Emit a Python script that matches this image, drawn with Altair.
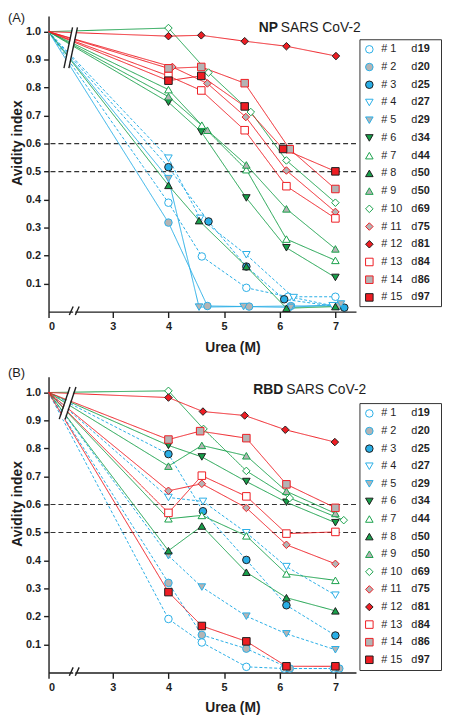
import altair as alt
import pandas as pd

FONT = "Liberation Sans"
BLUE = "#29aee6"
GREEN = "#18a04a"
RED = "#ee1d23"
GRAY = "#b4b4b4"
INK = "#1e1e1e"

series = [f"# {i}" for i in range(1, 16)]
days = ["19", "20", "25", "27", "29", "34", "44", "50", "50", "69", "75", "81", "84", "86", "97"]
family = ["blue"] * 5 + ["green"] * 5 + ["red"] * 5
shapes = ["circle"] * 3 + ["triangle-down"] * 3 + ["triangle-up"] * 3 + ["diamond"] * 3 + ["square"] * 3
fills = ["white", GRAY, BLUE, "white", GRAY, GREEN, "white", GREEN, GRAY, "white", GRAY, RED, "white", GRAY, RED]
strokes = [BLUE, BLUE, INK, BLUE, BLUE, INK, GREEN, INK, GREEN, GREEN, RED, INK, RED, RED, INK]
ref_levels = [0.5, 0.6]
x_ticks = [0, 3, 4, 5, 6, 7]
y_ticks = [0.1, 0.2, 0.3, 0.4, 0.5, 0.6, 0.7, 0.8, 0.9, 1.0]

# ---- Panel A: NP SARS CoV-2 (urea M, avidity index) ----
np_x_01 = [0, 4.00, 4.60, 5.40, 6.15, 7.00]; np_v_01 = [1.0, 0.389, 0.197, 0.085, 0.053, 0.053]
np_x_02 = [0, 4.00, 4.70, 5.45, 6.20, 7.05]; np_v_02 = [1.0, 0.318, 0.020, 0.018, 0.020, 0.020]
np_x_03 = [0, 4.00, 4.72, 5.40, 6.08, 7.16]; np_v_03 = [1.0, 0.516, 0.322, 0.161, 0.044, 0.014]
np_x_04 = [0, 4.00, 4.57, 5.40, 6.25, 6.95]; np_v_04 = [1.0, 0.548, 0.333, 0.203, 0.050, 0.021]
np_x_05 = [0, 4.00, 4.55, 5.35, 6.20, 7.10]; np_v_05 = [1.0, 0.475, 0.016, 0.018, 0.015, 0.027]
np_x_06 = [0, 4.00, 4.59, 5.40, 6.12, 7.00]; np_v_06 = [1.0, 0.748, 0.642, 0.406, 0.228, 0.122]
np_x_07 = [0, 4.00, 4.60, 5.40, 6.12, 7.00]; np_v_07 = [1.0, 0.793, 0.666, 0.507, 0.259, 0.183]
np_x_08 = [0, 4.00, 4.55, 5.40, 6.12, 7.00]; np_v_08 = [1.0, 0.451, 0.325, 0.161, 0.012, 0.018]
np_x_09 = [0, 4.00, 4.70, 5.40, 6.12, 7.00]; np_v_09 = [1.0, 0.768, 0.648, 0.524, 0.367, 0.224]
np_x_10 = [0, 4.00, 4.72, 5.48, 6.12, 7.00]; np_v_10 = [1.0, 1.013, 0.854, 0.713, 0.540, 0.389]
np_x_11 = [0, 4.07, 4.70, 5.39, 6.12, 7.00]; np_v_11 = [1.0, 0.874, 0.815, 0.695, 0.504, 0.356]
np_x_12 = [0, 4.00, 4.59, 5.37, 6.12, 7.01]; np_v_12 = [1.0, 0.984, 0.987, 0.966, 0.948, 0.913]
np_x_13 = [0, 4.00, 4.59, 5.37, 6.12, 7.00]; np_v_13 = [1.0, 0.842, 0.790, 0.648, 0.448, 0.333]
np_x_14 = [0, 4.00, 4.59, 5.37, 6.18, 7.00]; np_v_14 = [1.0, 0.869, 0.874, 0.816, 0.580, 0.438]
np_x_15 = [0, 4.00, 4.59, 5.37, 6.06, 7.00]; np_v_15 = [1.0, 0.825, 0.842, 0.733, 0.581, 0.501]
np_solid = ["# 2", "# 5"]

# ---- Panel B: RBD SARS CoV-2 ----
rbd_x_01 = [0, 4.00, 4.60, 5.40, 6.08, 6.97]; rbd_v_01 = [1.0, 0.191, 0.107, 0.020, 0.014, 0.014]
rbd_x_02 = [0, 4.00, 4.60, 5.40, 6.18, 7.07]; rbd_v_02 = [1.0, 0.320, 0.134, 0.085, 0.014, 0.014]
rbd_x_03 = [0, 4.00, 4.62, 5.40, 6.12, 7.00]; rbd_v_03 = [1.0, 0.780, 0.576, 0.402, 0.240, 0.132]
rbd_x_04 = [0, 4.00, 4.62, 5.40, 6.12, 7.00]; rbd_v_04 = [1.0, 0.625, 0.611, 0.499, 0.378, 0.276]
rbd_x_05 = [0, 4.00, 4.60, 5.40, 6.12, 7.00]; rbd_v_05 = [1.0, 0.417, 0.305, 0.201, 0.138, 0.081]
rbd_x_06 = [0, 4.00, 4.60, 5.40, 6.12, 7.00]; rbd_v_06 = [1.0, 0.811, 0.770, 0.682, 0.608, 0.535]
rbd_x_07 = [0, 4.00, 4.60, 5.40, 6.12, 7.00]; rbd_v_07 = [1.0, 0.549, 0.561, 0.488, 0.352, 0.329]
rbd_x_08 = [0, 4.00, 4.60, 5.40, 6.12, 7.00]; rbd_v_08 = [1.0, 0.435, 0.523, 0.358, 0.267, 0.220]
rbd_x_09 = [0, 4.00, 4.60, 5.40, 6.12, 7.00]; rbd_v_09 = [1.0, 0.737, 0.811, 0.774, 0.647, 0.568]
rbd_x_10 = [0, 4.00, 4.63, 5.40, 6.18, 7.15]; rbd_v_10 = [1.0, 1.006, 0.870, 0.720, 0.623, 0.544]
rbd_x_11 = [0, 4.00, 4.60, 5.40, 6.12, 7.00]; rbd_v_11 = [1.0, 0.649, 0.674, 0.588, 0.456, 0.388]
rbd_x_12 = [0, 4.00, 4.62, 5.37, 6.10, 6.99]; rbd_v_12 = [1.0, 0.982, 0.932, 0.918, 0.867, 0.823]
rbd_x_13 = [0, 4.00, 4.60, 5.40, 6.12, 7.00]; rbd_v_13 = [1.0, 0.570, 0.703, 0.629, 0.496, 0.502]
rbd_x_14 = [0, 4.00, 4.57, 5.40, 6.12, 7.00]; rbd_v_14 = [1.0, 0.832, 0.862, 0.837, 0.672, 0.588]
rbd_x_15 = [0, 4.00, 4.60, 5.40, 6.12, 7.00]; rbd_v_15 = [1.0, 0.287, 0.166, 0.111, 0.022, 0.022]
rbd_solid = []

# axis-break decorations (data units)
np_brk_x = [0.72, 0.95]; np_brk_x2 = [1.12, 1.35]; np_brk_y = [0.87, 0.87]; np_brk_y2 = [1.015, 1.015]
rbd_brk_x = [0.50, 0.78]; rbd_brk_x2 = [1.00, 1.28]; rbd_brk_y = [0.905, 0.905]; rbd_brk_y2 = [1.02, 1.02]
axis_brk_x = [0.97, 1.25]; axis_brk_x2 = [1.15, 1.43]; axis_brk_y = [-0.012, -0.012]; axis_brk_y2 = [0.018, 0.018]

np_xs = [np_x_01, np_x_02, np_x_03, np_x_04, np_x_05, np_x_06, np_x_07, np_x_08, np_x_09, np_x_10,
         np_x_11, np_x_12, np_x_13, np_x_14, np_x_15]
np_vs = [np_v_01, np_v_02, np_v_03, np_v_04, np_v_05, np_v_06, np_v_07, np_v_08, np_v_09, np_v_10,
         np_v_11, np_v_12, np_v_13, np_v_14, np_v_15]
rbd_xs = [rbd_x_01, rbd_x_02, rbd_x_03, rbd_x_04, rbd_x_05, rbd_x_06, rbd_x_07, rbd_x_08, rbd_x_09, rbd_x_10,
          rbd_x_11, rbd_x_12, rbd_x_13, rbd_x_14, rbd_x_15]
rbd_vs = [rbd_v_01, rbd_v_02, rbd_v_03, rbd_v_04, rbd_v_05, rbd_v_06, rbd_v_07, rbd_v_08, rbd_v_09, rbd_v_10,
          rbd_v_11, rbd_v_12, rbd_v_13, rbd_v_14, rbd_v_15]


def series_frame(xs, vs, solid):
    rows = []
    for i, sid in enumerate(series):
        ls = "solid" if (family[i] != "blue" or sid in solid) else "dash"
        for x, v in zip(xs[i], vs[i]):
            rows.append(dict(sid=sid, fam=family[i], ls=ls, urea=x, val=v))
    return pd.DataFrame(rows)


fill_scale = alt.Scale(domain=series, range=fills)
stroke_scale = alt.Scale(domain=series, range=strokes)
shape_scale = alt.Scale(domain=series, range=shapes)
fam_scale = alt.Scale(domain=["blue", "green", "red"], range=[BLUE, GREEN, RED])
dash_scale = alt.Scale(domain=["dash", "solid"], range=[[3, 2], [1, 0]])

W, H = 311, 299


def make_panel(xs, vs, solid, tag, tag_y, bold, rest, rest_x, title_y, brk, ly_dom, box):
    df = series_frame(xs, vs, solid)
    xsc = alt.Scale(domain=[0, 3, 7.37], range=[0, 65, W], nice=False, zero=False)
    ysc = alt.Scale(domain=[0, 1.056], nice=False, zero=False)
    xax = alt.Axis(values=x_ticks, format="d", title="Urea (M)", titleX=186, titleY=36,
                   titleAlign="center", titleBaseline="middle", labelPadding=3, tickSize=6)
    yax = alt.Axis(values=y_ticks, format=".1f", title="Avidity index", titleX=-31, titleY=128,
                   titleAlign="center", titleBaseline="middle", labelPadding=3, tickSize=5)
    X = lambda f: alt.X(f, scale=xsc, axis=xax)
    Y = lambda f: alt.Y(f, scale=ysc, axis=yax)

    refs = alt.Chart(pd.DataFrame({"val": ref_levels})).mark_rule(
        color="#333333", strokeDash=[5, 3], strokeWidth=1.1).encode(y=Y("val:Q"))

    lines = alt.Chart(df).mark_line(strokeWidth=1).encode(
        x=X("urea:Q"), y=Y("val:Q"),
        color=alt.Color("fam:N", scale=fam_scale, legend=None),
        strokeDash=alt.StrokeDash("ls:N", scale=dash_scale, legend=None),
        detail="sid:N")

    bx, bx2, by, by2 = brk
    brk_df = pd.DataFrame({"bx": bx, "bx2": bx2, "by": by, "by2": by2})
    gap_df = pd.DataFrame({"bx": [sum(bx) / 2], "bx2": [sum(bx2) / 2], "by": [by[0]], "by2": [by2[0]]})
    gap = alt.Chart(gap_df).mark_rule(color="white", strokeWidth=4).encode(
        x=X("bx:Q"), x2="bx2", y=Y("by:Q"), y2="by2")
    slashes = alt.Chart(brk_df).mark_rule(color=INK, strokeWidth=1.4).encode(
        x=X("bx:Q"), x2="bx2", y=Y("by:Q"), y2="by2")

    abrk_df = pd.DataFrame({"bx": axis_brk_x, "bx2": axis_brk_x2, "by": axis_brk_y, "by2": axis_brk_y2})
    agap_df = pd.DataFrame({"bx": [axis_brk_x2[0]], "bx2": [axis_brk_x[1]], "by": [0.0], "by2": [0.0]})
    agap = alt.Chart(agap_df).mark_rule(color="white", strokeWidth=3).encode(
        x=X("bx:Q"), x2="bx2", y=Y("by:Q"), y2="by2")
    aslash = alt.Chart(abrk_df).mark_rule(color=INK, strokeWidth=1.4).encode(
        x=X("bx:Q"), x2="bx2", y=Y("by:Q"), y2="by2")

    points = alt.Chart(df).transform_filter("datum.urea > 0").mark_point(
        filled=True, size=58, strokeWidth=1, opacity=1).encode(
        x=X("urea:Q"), y=Y("val:Q"),
        fill=alt.Fill("sid:N", scale=fill_scale, legend=None),
        stroke=alt.Stroke("sid:N", scale=stroke_scale, legend=None),
        shape=alt.Shape("sid:N", scale=shape_scale, legend=None))

    tag_t = alt.Chart(pd.DataFrame({"t": [tag]})).mark_text(
        align="left", baseline="middle", fontSize=13, font=FONT, color=INK).encode(
        x=alt.value(-41), y=alt.value(tag_y), text="t:N")
    bold_t = alt.Chart(pd.DataFrame({"t": [bold]})).mark_text(
        align="right", baseline="middle", fontSize=14, fontWeight="bold", font=FONT, color=INK).encode(
        x=alt.value(rest_x - 3), y=alt.value(title_y), text="t:N")
    rest_t = alt.Chart(pd.DataFrame({"t": [rest]})).mark_text(
        align="left", baseline="middle", fontSize=14, font=FONT, color=INK).encode(
        x=alt.value(rest_x), y=alt.value(title_y), text="t:N")

    main = alt.layer(refs, lines, gap, slashes, agap, aslash, points, tag_t, bold_t, rest_t)

    # hand-built legend (own y scale on row index)
    leg_df = pd.DataFrame({"sid": series, "row": list(range(15)), "day": days})
    lys = alt.Scale(domain=ly_dom, reverse=True, nice=False, zero=False)
    LY = lambda f: alt.Y(f, scale=lys, axis=None)
    box_r = alt.Chart(pd.DataFrame({"a": [0]})).mark_rect(
        fill="white", stroke="#333333", strokeWidth=1).encode(
        x=alt.value(315), x2=alt.value(397.5),
        y=alt.YDatum(box[0], scale=lys, axis=None), y2=alt.Y2Datum(box[1]))
    leg_pts = alt.Chart(leg_df).mark_point(filled=True, size=58, strokeWidth=1, opacity=1).encode(
        x=alt.value(324.5), y=LY("row:Q"),
        fill=alt.Fill("sid:N", scale=fill_scale, legend=None),
        stroke=alt.Stroke("sid:N", scale=stroke_scale, legend=None),
        shape=alt.Shape("sid:N", scale=shape_scale, legend=None))
    leg_num = alt.Chart(leg_df).mark_text(align="left", baseline="middle", fontSize=11,
                                          font=FONT, color=INK).encode(
        x=alt.value(336.5), y=LY("row:Q"), text="sid:N")
    leg_d = alt.Chart(leg_df).mark_text(align="left", baseline="middle", fontSize=11,
                                        font=FONT, color=INK, text="d").encode(
        x=alt.value(367), y=LY("row:Q"))
    leg_day = alt.Chart(leg_df).mark_text(align="left", baseline="middle", fontSize=11,
                                          fontWeight="bold", font=FONT, color=INK).encode(
        x=alt.value(373.5), y=LY("row:Q"), text="day:N")
    legend = alt.layer(box_r, leg_pts, leg_num, leg_d, leg_day)

    return alt.layer(main, legend).resolve_scale(x="independent", y="independent").properties(
        width=W, height=H)


panel_a = make_panel(np_xs, np_vs, np_solid, "(A)", 2, "NP", "SARS CoV-2", 235, 12,
                     (np_brk_x, np_brk_x2, np_brk_y, np_brk_y2), [-1.88, 14.80], [-0.54, 14.52])
panel_b = make_panel(rbd_xs, rbd_vs, rbd_solid, "(B)", -4, "RBD", "SARS CoV-2", 240.5, 13.7,
                     (rbd_brk_x, rbd_brk_x2, rbd_brk_y, rbd_brk_y2), [-2.08, 14.72], [-0.56, 14.61])

chart = alt.vconcat(panel_a, panel_b, spacing=13).properties(padding=0).configure_view(
    stroke=None).configure_axis(
    grid=False, domainColor=INK, domainWidth=1.4, tickColor=INK, tickWidth=1.4,
    labelFont=FONT, labelFontSize=11, labelFontWeight="bold", labelColor=INK,
    titleFont=FONT, titleFontSize=14, titleFontWeight="bold", titleColor=INK)

chart.save("out.html", embed_options={"renderer": "svg", "actions": False})
